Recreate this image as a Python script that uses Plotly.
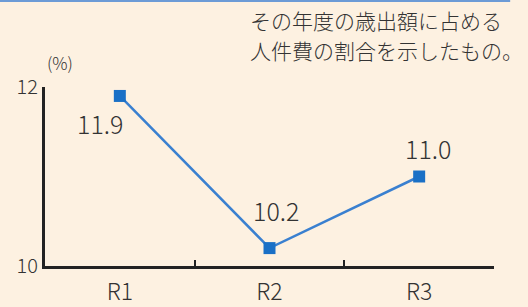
import plotly.graph_objects as go

categories = ["R1", "R2", "R3"]
values = [11.9, 10.2, 11.0]
value_labels = ["11.9", "10.2", "11.0"]
y_ticks = [10, 12]
note_lines = ["その年度の歳出額に占める", "人件費の割合を示したもの。"]
unit_label = "(%)"

BG = "#fdf1e1"
TXT = "#333333"
FONT = "Noto Sans CJK JP"

fig = go.Figure()
fig.add_trace(go.Scatter(
    x=categories, y=values, mode="lines+markers",
    line=dict(color="#3a80d0", width=2.5),
    marker=dict(symbol="square", size=12, color="#1a70c6"),
    hoverinfo="skip", showlegend=False,
))

# data labels offsets (pixels)
offsets = [(-20, -27), (6, 38), (9, 29)]
for c, v, t, (dx, dy) in zip(categories, values, value_labels, offsets):
    fig.add_annotation(x=c, y=v, text=t, showarrow=False, xshift=dx, yshift=dy,
                       font=dict(family=FONT, size=25, color=TXT, weight=300),
                       xanchor="center", yanchor="middle")

for line, ypos in zip(note_lines, [1.377, 1.209]):
    fig.add_annotation(xref="paper", yref="paper", x=0.452, y=ypos, text=line,
                       showarrow=False, xanchor="left", yanchor="middle", align="left",
                       font=dict(family=FONT, size=21, color=TXT, weight=300))
fig.add_annotation(xref="paper", yref="paper", x=0.0, y=1.135, text=unit_label, showarrow=False,
                   xanchor="left", yanchor="middle",
                   font=dict(family=FONT, size=17, color=TXT, weight=300))

fig.add_shape(type="line", xref="paper", yref="paper", x0=-0.11, x1=1.036, y0=1.48, y1=1.48,
              line=dict(color="#6c9bd6", width=2))

fig.update_layout(
    width=528, height=307,
    margin=dict(l=45, r=34, t=87, b=41, autoexpand=False),
    paper_bgcolor=BG, plot_bgcolor=BG,
    xaxis=dict(type="category", range=[-0.5, 2.5], showgrid=False, zeroline=False, automargin=False,
               showline=True, linecolor="#222222", linewidth=3,
               ticks="inside", tickson="boundaries", ticklen=6, tickwidth=2, tickcolor="#222222",
               ticklabelstandoff=3,
               tickfont=dict(family=FONT, size=23, color=TXT, weight=300)),
    yaxis=dict(range=[10, 12], tickvals=y_ticks, showgrid=False, zeroline=False, automargin=False,
               showline=True, linecolor="#222222", linewidth=3,
               ticks="inside", ticklen=10, tickwidth=3, tickcolor="#222222",
               tickfont=dict(family=FONT, size=20, color=TXT, weight=300)),
)

fig.write_html("out.html", config={"displayModeBar": False},
               post_script="document.body.style.margin='0';document.body.style.background='%s';" % BG)
